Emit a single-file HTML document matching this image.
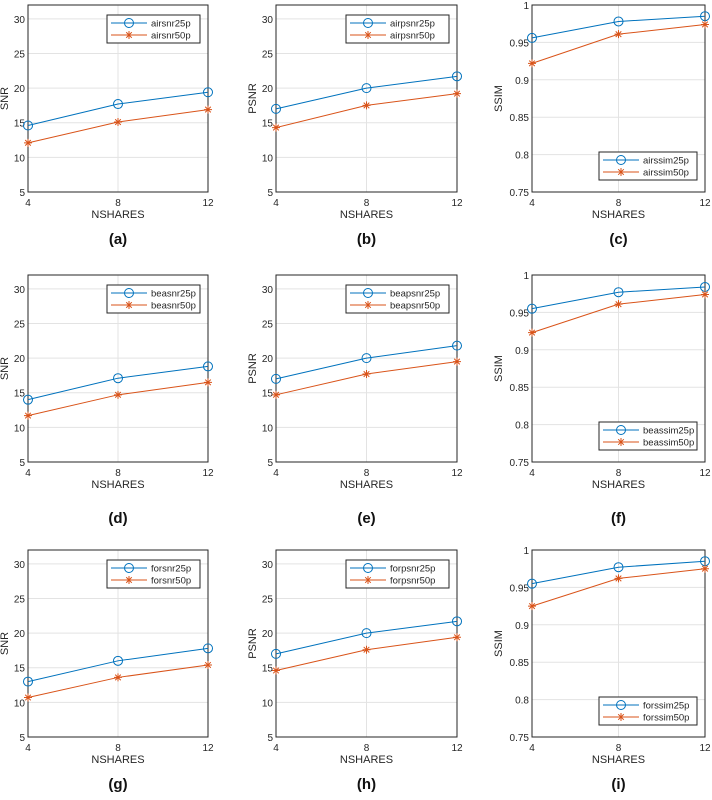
<!DOCTYPE html>
<html><head><meta charset="utf-8"><style>
body{margin:0;background:#fff;}
svg{display:block;font-family:"Liberation Sans",sans-serif;}
</style></head><body>
<svg id="fig" width="712" height="800" viewBox="0 0 712 800"></svg>
<script>
const xCats=[4,8,12];
const panelLetters=['a','b','c','d','e','f','g','h','i'];
const panelYLabels=['SNR','PSNR','SSIM','SNR','PSNR','SSIM','SNR','PSNR','SSIM'];
const series25Names=['airsnr25p','airpsnr25p','airssim25p','beasnr25p','beapsnr25p','beassim25p','forsnr25p','forpsnr25p','forssim25p'];
const series50Names=['airsnr50p','airpsnr50p','airssim50p','beasnr50p','beapsnr50p','beassim50p','forsnr50p','forpsnr50p','forssim50p'];
const values25=[[14.6,17.7,19.4],[17,20,21.7],[0.956,0.978,0.985],[14,17.1,18.8],[17,20,21.8],[0.955,0.977,0.984],[13,16,17.8],[17,20,21.7],[0.955,0.977,0.985]];
const values50=[[12.1,15.1,16.9],[14.3,17.5,19.2],[0.922,0.961,0.974],[11.7,14.7,16.5],[14.7,17.7,19.5],[0.923,0.961,0.974],[10.7,13.6,15.4],[14.6,17.6,19.4],[0.925,0.962,0.975]];
const snrTicks=[5,10,15,20,25,30];
const snrTickLabels=['5','10','15','20','25','30'];
const ssimTicks=[0.75,0.8,0.85,0.9,0.95,1];
const ssimTickLabels=['0.75','0.8','0.85','0.9','0.95','1'];

const NS='http://www.w3.org/2000/svg';
const svg=document.getElementById('fig');
function mk(tag,attrs,parent){const e=document.createElementNS(NS,tag);for(const k in attrs)e.setAttribute(k,attrs[k]);(parent||svg).appendChild(e);return e;}
const colL=[28,276,532], colR=[208,457,705];
const rowT=[5,275,550];
const labelOff=[52,61,52];
const PH=187;
const BLUE='#0072BD', RED='#D95319';

function star(g,x,y){
  const r=4;
  mk('path',{d:`M${x-r},${y}H${x+r}M${x},${y-r}V${y+r}M${x-r*0.7},${y-r*0.7}L${x+r*0.7},${y+r*0.7}M${x-r*0.7},${y+r*0.7}L${x+r*0.7},${y-r*0.7}`,stroke:RED,'stroke-width':1,fill:'none'},g);
}

for(let p=0;p<9;p++){
  const c=p%3,r=Math.floor(p/3);
  const L=colL[c],R=colR[c],T=rowT[r],B=T+PH;
  const isS=c===2;
  const yMin=isS?0.75:5, yMax=isS?1:32;
  const xs=v=>L+(v-4)/8*(R-L);
  const ys=v=>B-(v-yMin)/(yMax-yMin)*PH;
  const g=mk('g',{});
  
  
  const ticks=isS?ssimTicks:snrTicks, tl=isS?ssimTickLabels:snrTickLabels;
  ticks.forEach((t,i)=>{
    const y=ys(t);
    if(i>0) mk('line',{x1:L,x2:R,y1:y,y2:y,stroke:'#e3e3e3','stroke-width':1},g);
    const tx=mk('text',{x:L-3,y:y+4,'text-anchor':'end','font-size':10,fill:'#262626'},g);
    tx.textContent=tl[i];
    
    
  });
  xCats.forEach(v=>{
    const x=xs(v);
    mk('line',{x1:x,x2:x,y1:T,y2:B,stroke:'#e3e3e3','stroke-width':1},g);
    const tx=mk('text',{x:x,y:B+14,'text-anchor':'middle','font-size':10,fill:'#262626'},g);
    tx.textContent=String(v);
    
    
  });
  mk('rect',{x:L,y:T,width:R-L,height:PH,fill:'none',stroke:'#262626','stroke-width':1},g);
  const xt=mk('text',{x:(L+R)/2,y:B+26,'text-anchor':'middle','font-size':11,fill:'#262626'},g);
  xt.textContent='NSHARES';
  
  
  const ytx=L-(isS?30:20), yty=(T+B)/2;
  const yt=mk('text',{x:ytx,y:yty,'text-anchor':'middle','font-size':11,fill:'#262626',transform:`rotate(-90 ${ytx} ${yty})`},g);
  yt.textContent=panelYLabels[p];
  
  
  const pts25=xCats.map((v,i)=>xs(v)+','+ys(values25[p][i])).join(' ');
  const pts50=xCats.map((v,i)=>xs(v)+','+ys(values50[p][i])).join(' ');
  const l25=mk('polyline',{points:pts25,fill:'none',stroke:BLUE,'stroke-width':1},g);
  
  
  const l50=mk('polyline',{points:pts50,fill:'none',stroke:RED,'stroke-width':1},g);
  
  
  xCats.forEach((v,i)=>{
    const m=mk('circle',{cx:xs(v),cy:ys(values25[p][i]),r:4.5,fill:'none',stroke:BLUE,'stroke-width':1},g);
    
    
    star(g,xs(v),ys(values50[p][i]));
  });
  const lw=isS?98:(c===0?93:103), lh=28;
  const lx=R-8-lw, ly=isS?B-12-lh:T+10;
  const lg=mk('g',{},g);
  
  
  mk('rect',{x:lx,y:ly,width:lw,height:lh,fill:'#fff',stroke:'#262626','stroke-width':1},lg);
  [[series25Names[p],BLUE,0],[series50Names[p],RED,1]].forEach(([nm,col,k])=>{
    const yy=ly+8+k*12;
    mk('line',{x1:lx+4,x2:lx+40,y1:yy,y2:yy,stroke:col,'stroke-width':1},lg);
    if(k===0) mk('circle',{cx:lx+22,cy:yy,r:4.5,fill:'none',stroke:col},lg);
    else star(lg,lx+22,yy);
    const t=mk('text',{x:lx+44,y:yy+3.5,'font-size':9.5,fill:'#262626'},lg);
    t.textContent=nm;
    
    
  });
  const pl=mk('text',{x:(L+R)/2,y:B+labelOff[r],'text-anchor':'middle','font-size':15,'font-weight':'bold',fill:'#111'},g);
  pl.textContent='('+panelLetters[p]+')';
  
  
}
</script>
</body></html>
